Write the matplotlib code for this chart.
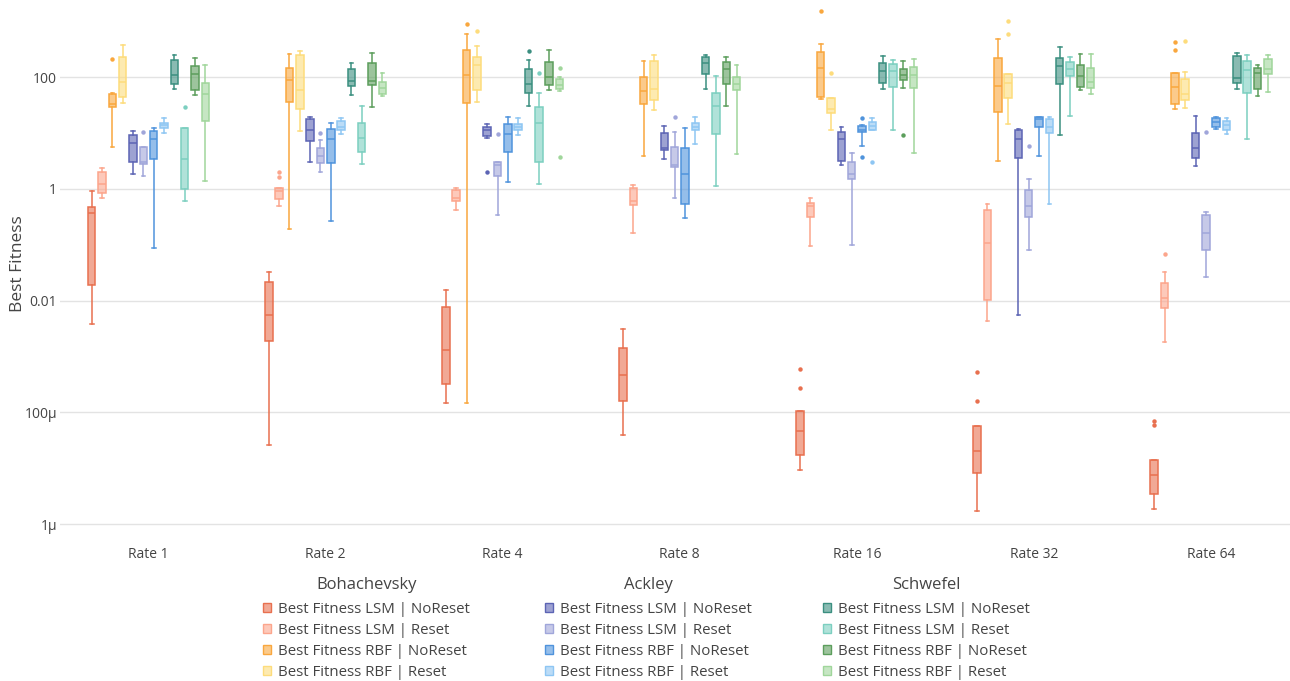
import matplotlib
matplotlib.use('Agg')
import matplotlib.pyplot as plt
from matplotlib.patches import Patch
from matplotlib.colors import to_rgba
from matplotlib.ticker import FixedLocator, FixedFormatter, NullLocator

RATES = ['Rate 1', 'Rate 2', 'Rate 4', 'Rate 8', 'Rate 16', 'Rate 32', 'Rate 64']
GROUPS = ['Bohachevsky', 'Ackley', 'Schwefel']
SERIES_LABELS = ['Best Fitness LSM | NoReset', 'Best Fitness LSM | Reset',
                 'Best Fitness RBF | NoReset', 'Best Fitness RBF | Reset']
YTICKS = [1e-6, 1e-4, 1e-2, 1, 100]
YTICK_LABELS = ['1µ', '100µ', '0.01', '1', '100']

# per rate: [lower whisker, Q1, median, Q3, upper whisker]
BOH_LSM_NR = [[0.0039, 0.019, 0.37, 0.47, 0.93], [2.65e-5, 1.9e-3, 5.5e-3, 0.022, 0.033],
              [1.45e-4, 3.2e-4, 1.3e-3, 7.7e-3, 0.0155], [3.9e-5, 1.6e-4, 4.7e-4, 1.45e-3, 3.1e-3],
              [9.3e-6, 1.7e-5, 4.6e-5, 1.07e-4, 1.07e-4], [1.74e-6, 8.1e-6, 2.0e-5, 5.8e-5, 5.8e-5],
              [1.89e-6, 3.4e-6, 7.7e-6, 1.4e-5, 1.4e-5]]
BOH_LSM_NR_OUT = [[], [], [], [], [2.7e-4, 6.1e-4], [1.57e-4, 5.3e-4], [5.9e-5, 6.9e-5]]
BOH_LSM_R = [[0.69, 0.84, 1.21, 2.04, 2.34], [0.50, 0.67, 0.92, 1.06, 1.06],
             [0.42, 0.60, 0.70, 0.95, 1.06], [0.16, 0.51, 0.61, 1.03, 1.17],
             [0.095, 0.31, 0.49, 0.55, 0.70], [4.4e-3, 0.0102, 0.106, 0.42, 0.54],
             [1.8e-3, 7.5e-3, 0.0114, 0.0204, 0.0328]]
BOH_LSM_R_OUT = [[], [1.66, 1.99], [], [], [], [], [0.068]]
BOH_RBF_NR = [[5.7, 29.5, 33.9, 50, 52.5], [0.19, 35.8, 91, 147, 263],
              [1.5e-4, 34.2, 109, 314, 596], [3.9, 32.7, 56, 100, 195],
              [40.7, 44, 146, 288, 398], [3.15, 23.8, 70, 218, 490],
              [26.7, 33.8, 68, 118, 118]]
BOH_RBF_NR_OUT = [[212], [], [893], [], [1540], [], [305, 435]]
BOH_RBF_R = [[34.7, 44.7, 81, 231, 372], [10.9, 27.5, 60, 254, 291],
             [36.6, 59, 165, 234, 356], [25.5, 38.7, 60.5, 198, 255],
             [11.2, 22.5, 27.4, 43.4, 43.4], [14.4, 42, 80, 113.5, 113.5],
             [28.3, 39.3, 50, 93, 123]]
BOH_RBF_R_OUT = [[], [], [667], [], [117], [603, 1023], [455]]

ACK_LSM_NR = [[1.85, 2.99, 6.8, 9.1, 10.9], [3.08, 7.3, 11.6, 17.8, 19.3],
              [8.1, 8.8, 11.2, 12.7, 14.8], [3.47, 4.9, 5.5, 9.9, 13.6],
              [2.66, 3.15, 7.8, 10.7, 12.7], [5.5e-3, 3.56, 7.8, 11.4, 12.0],
              [2.59, 3.59, 5.4, 10.1, 20.1]]
ACK_LSM_NR_OUT = [[], [], [2.04], [], [], [], []]
ACK_LSM_R = [[1.71, 2.79, 2.99, 5.7, 5.7], [1.99, 2.87, 3.88, 5.5, 7.5],
             [0.34, 1.73, 2.74, 3.1, 3.1], [0.69, 2.45, 2.74, 5.7, 10.6],
             [0.098, 1.48, 1.83, 3.02, 4.5], [0.080, 0.32, 0.49, 0.96, 1.5],
             [0.027, 0.080, 0.166, 0.343, 0.38]]
ACK_LSM_R_OUT = [[10.5], [10], [9.8], [19.8], [], [5.8], [10.6]]
ACK_RBF_NR = [[0.087, 3.39, 8.0, 10.9, 12.6], [0.27, 2.87, 8.0, 12.1, 15.3],
              [1.31, 4.6, 9.5, 14.4, 19.8], [0.30, 0.53, 1.83, 5.35, 12.2],
              [6.0, 10.3, 11.5, 13.4, 13.8], [3.83, 12.7, 18.2, 19.8, 19.8],
              [11.9, 12.9, 15.6, 18.9, 19.8]]
ACK_RBF_NR_OUT = [[], [], [], [], [3.7, 18.5], [], []]
ACK_RBF_R = [[10.1, 12.4, 13.9, 15.5, 19], [9.5, 11.3, 13, 16.6, 18.5],
             [9.2, 11.2, 13.1, 14.8, 18.5], [6.5, 11.2, 12.9, 15.2, 19.3],
             [11.2, 11.4, 13.4, 15.6, 18.7], [0.54, 10, 12.7, 18.2, 19.3],
             [9.7, 11.6, 13.9, 16.3, 18.7]]
ACK_RBF_R_OUT = [[], [], [], [], [3.06], [], []]

SCH_LSM_NR = [[63, 76, 112, 200, 247], [48, 71, 87, 141, 183],
              [31, 52, 76, 140, 207], [61, 113, 179, 228, 248],
              [63, 79, 130, 179, 241], [9.2, 76, 161, 224, 346],
              [61, 79, 97, 240, 270]]
SCH_LSM_NR_OUT = [[], [], [301], [], [], [], []]
SCH_LSM_R = [[0.60, 1.01, 3.39, 12.3, 12.6], [2.83, 4.57, 8.1, 15.3, 31.2],
             [1.22, 3.06, 15, 28.8, 52], [1.11, 9.6, 30, 52, 106],
             [11.2, 67, 129, 172, 207], [20.1, 104, 142, 190, 228],
             [7.8, 52, 133, 192, 248]]
SCH_LSM_R_OUT = [[29.5], [], [120], [], [], [], []]
SCH_RBF_NR = [[49, 60, 115, 161, 221], [29.5, 73, 85, 183, 272],
              [60, 72, 100, 187, 314], [31, 77, 140, 190, 234],
              [65, 88, 110, 140, 195], [59, 66, 104, 165, 265],
              [47, 61, 121, 145, 168]]
SCH_RBF_NR_OUT = [[], [], [], [], [9.2], [], []]
SCH_RBF_R = [[1.39, 16.2, 50, 79, 168], [45.7, 51, 65, 83, 119],
             [58, 63, 74, 92, 100], [4.2, 60, 77, 100, 165],
             [4.4, 64, 109, 152, 215], [50.5, 64, 81, 146, 265],
             [54, 113, 139, 210, 251]]
SCH_RBF_R_OUT = [[], [], [3.78, 148], [], [], [], []]

COLORS = ['#e8704f', '#fca58c', '#f9a73e', '#fddc7c',
          '#5c64b4', '#a0a6da', '#4f93dc', '#8ec6f3',
          '#3b8f80', '#7ccfc0', '#5c9e5c', '#a0d69b']

SERIES = [
    (BOH_LSM_NR, BOH_LSM_NR_OUT), (BOH_LSM_R, BOH_LSM_R_OUT),
    (BOH_RBF_NR, BOH_RBF_NR_OUT), (BOH_RBF_R, BOH_RBF_R_OUT),
    (ACK_LSM_NR, ACK_LSM_NR_OUT), (ACK_LSM_R, ACK_LSM_R_OUT),
    (ACK_RBF_NR, ACK_RBF_NR_OUT), (ACK_RBF_R, ACK_RBF_R_OUT),
    (SCH_LSM_NR, SCH_LSM_NR_OUT), (SCH_LSM_R, SCH_LSM_R_OUT),
    (SCH_RBF_NR, SCH_RBF_NR_OUT), (SCH_RBF_R, SCH_RBF_R_OUT),
]

W, H = 1290, 681
fig = plt.figure(figsize=(W / 100, H / 100), dpi=100)
plt.rcParams['font.family'] = ['Open Sans', 'DejaVu Sans']
ax = fig.add_axes([60 / W, 154 / H, 1230 / W, 527 / H])

n = len(SERIES)
slot = 0.7 / n
bw = slot * 0.72
for j, ((stats, outs), col) in enumerate(zip(SERIES, COLORS)):
    bxp = []
    for s, o in zip(stats, outs):
        bxp.append(dict(whislo=s[0], q1=s[1], med=s[2], q3=s[3], whishi=s[4], fliers=o))
    pos = [i - 0.35 + slot * (j + 0.5) for i in range(len(RATES))]
    ax.bxp(bxp, positions=pos, widths=bw, capwidths=bw * 0.5, patch_artist=True,
           showfliers=True, manage_ticks=False,
           boxprops=dict(facecolor=to_rgba(col, 0.6), edgecolor=col, linewidth=1.1),
           medianprops=dict(color=col, linewidth=1.1),
           whiskerprops=dict(color=col, linewidth=1.1),
           capprops=dict(color=col, linewidth=1.1),
           flierprops=dict(marker='o', markersize=3.2, markerfacecolor=col,
                           markeredgecolor='none'))

ax.set_yscale('log')
ax.set_ylim(10 ** -6.052, 10 ** 3.384)
ax.set_xlim(-0.5, 6.446)
ax.yaxis.set_major_locator(FixedLocator(YTICKS))
ax.yaxis.set_major_formatter(FixedFormatter(YTICK_LABELS))
ax.yaxis.set_minor_locator(NullLocator())
ax.set_xticks(range(len(RATES)))
ax.set_xticklabels(RATES)
ax.tick_params(axis='both', length=0, labelsize=10, colors='#444444')
ax.tick_params(axis='x', pad=14.5)
ax.tick_params(axis='y', pad=2)
ax.grid(axis='y', color='#e3e3e3', linewidth=1)
ax.set_axisbelow(True)
for sp in ax.spines.values():
    sp.set_visible(False)
ax.set_ylabel('Best Fitness', fontsize=12.5, color='#444444')
ax.yaxis.set_label_coords((26 - 60) / 1230, 0.5)

leg_x = [263, 545, 823]
for g, gname in enumerate(GROUPS):
    handles = [Patch(facecolor=to_rgba(COLORS[g * 4 + k], 0.6), edgecolor=COLORS[g * 4 + k],
                     linewidth=1) for k in range(4)]
    lg = fig.legend(handles, SERIES_LABELS, title=gname, loc='upper left',
                    bbox_to_anchor=(leg_x[g] / W, 1 - 577 / H), frameon=False,
                    fontsize=10.8, title_fontsize=12, handlelength=0.55, handleheight=0.55,
                    handletextpad=0.45, labelspacing=0.4, borderpad=0, borderaxespad=0)
    lg._legend_box.sep = 6.3
    for t in lg.get_texts():
        t.set_color('#444444')
    lg.get_title().set_color('#444444')

fig.savefig('out.png', dpi=100)
